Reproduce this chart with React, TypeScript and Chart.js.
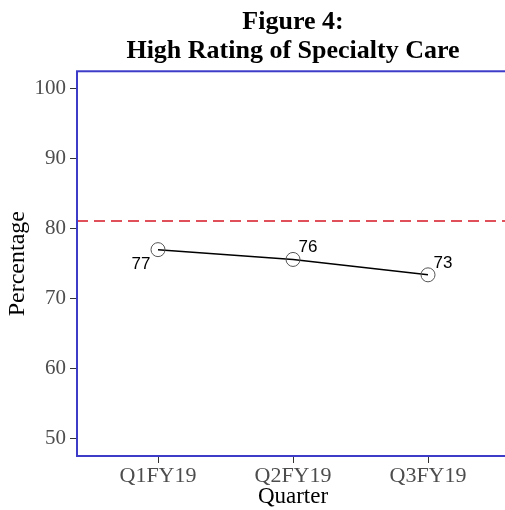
import { useEffect, useRef } from 'react';
import { Chart, registerables } from 'chart.js';

Chart.register(...registerables);

const titleLines = ['Figure 4:', 'High Rating of Specialty Care'];
const categories = ['Q1FY19', 'Q2FY19', 'Q3FY19'];
const values = [77.0, 75.6, 73.4];
const valueLabels = ['77', '76', '73'];
const targetValue = 81.1;
const yTicks = [50, 60, 70, 80, 90, 100];
const xTitle = 'Quarter';
const yTitle = 'Percentage';

const SERIF = "'Liberation Serif', 'Times New Roman', serif";
const SANS = "'Liberation Sans', Arial, sans-serif";

// label offsets (styling only, pixels relative to each point)
const labelOffsets = [
  [-17, 15],
  [15, -12],
  [15, -12],
];

const X_MIN = -0.6;
const X_MAX = categories.length - 1 + 0.6;

export default function App() {
  const ref = useRef<HTMLCanvasElement>(null);

  useEffect(() => {
    if (!ref.current) return;

    const labelPlugin = {
      id: 'valueLabels',
      afterDatasetsDraw(chart: any) {
        const ctx = chart.ctx;
        const meta = chart.getDatasetMeta(0);
        ctx.save();
        ctx.font = `17px ${SANS}`;
        ctx.fillStyle = '#000';
        ctx.textAlign = 'center';
        ctx.textBaseline = 'middle';
        meta.data.forEach((pt: any, i: number) => {
          const [dx, dy] = labelOffsets[i];
          ctx.fillText(valueLabels[i], pt.x + dx, pt.y + dy);
        });
        ctx.restore();
      },
    };

    const borderPlugin = {
      id: 'panelBorder',
      afterDraw(chart: any) {
        const { ctx, chartArea } = chart;
        ctx.save();
        ctx.strokeStyle = '#3c3cc8';
        ctx.lineWidth = 2;
        ctx.strokeRect(
          chartArea.left,
          chartArea.top,
          chartArea.right - chartArea.left,
          chartArea.bottom - chartArea.top
        );
        ctx.restore();
      },
    };

    const chart = new Chart(ref.current, {
      type: 'line',
      data: {
        datasets: [
          {
            data: values.map((v, i) => ({ x: i, y: v })),
            borderColor: '#000',
            borderWidth: 1.5,
            pointRadius: 7,
            pointBorderColor: '#555',
            pointBorderWidth: 1,
            pointBackgroundColor: 'rgba(0,0,0,0)',
            fill: false,
            tension: 0,
          },
          {
            data: [
              { x: X_MIN, y: targetValue },
              { x: X_MAX, y: targetValue },
            ],
            borderColor: '#e0505a',
            borderWidth: 2,
            borderDash: [11, 6],
            pointRadius: 0,
            fill: false,
          },
        ],
      },
      options: {
        responsive: false,
        animation: false,
        layout: { padding: 0, autoPadding: false },
        plugins: {
          legend: { display: false },
          tooltip: { enabled: false },
          title: {
            display: true,
            text: titleLines,
            fullSize: false,
            color: '#000',
            font: { family: SERIF, size: 26, weight: 'bold', lineHeight: 1.14 },
            padding: { top: 7, bottom: 5 },
          },
        },
        scales: {
          x: {
            type: 'linear',
            min: X_MIN,
            max: X_MAX,
            afterBuildTicks: (s: any) => {
              s.ticks = categories.map((_, i) => ({ value: i }));
            },
            afterFit: (s: any) => {
              s.height = 54;
              s.paddingLeft = 0;
              s.paddingRight = 0;
            },
            ticks: {
              color: '#4d4d4d',
              font: { family: SERIF, size: 22, lineHeight: 1.2 },
              padding: 0,
              maxRotation: 0,
              callback: (v: any) => categories[Math.round(Number(v))] ?? '',
            },
            grid: {
              drawOnChartArea: false,
              drawTicks: true,
              tickLength: 7,
              color: '#333',
              lineWidth: 1,
            },
            border: { display: false },
            title: {
              display: true,
              text: xTitle,
              color: '#000',
              font: { family: SERIF, size: 23, lineHeight: 1.1 },
              padding: { top: 0, bottom: 0 },
            },
          },
          y: {
            type: 'linear',
            min: 47.5,
            max: 102.5,
            afterBuildTicks: (s: any) => {
              s.ticks = yTicks.map((v) => ({ value: v }));
            },
            afterFit: (s: any) => {
              s.width = 77;
              s.paddingTop = 0;
              s.paddingBottom = 0;
            },
            ticks: {
              color: '#4d4d4d',
              font: { family: SERIF, size: 21 },
              padding: 4,
            },
            grid: {
              drawOnChartArea: false,
              drawTicks: true,
              tickLength: 7,
              color: '#333',
              lineWidth: 1,
            },
            border: { display: false },
            title: {
              display: true,
              text: yTitle,
              color: '#000',
              font: { family: SERIF, size: 24, lineHeight: 1.2 },
              padding: { top: 3, bottom: 0 },
            },
          },
        },
      },
      plugins: [labelPlugin, borderPlugin],
    } as any);

    return () => chart.destroy();
  }, []);

  return (
    <div
      style={{
        position: 'absolute',
        left: 0,
        top: 0,
        width: 505,
        height: 510,
        overflow: 'hidden',
        background: '#fff',
      }}
    >
      <canvas ref={ref} width={509} height={510} style={{ display: 'block' }} />
    </div>
  );
}
